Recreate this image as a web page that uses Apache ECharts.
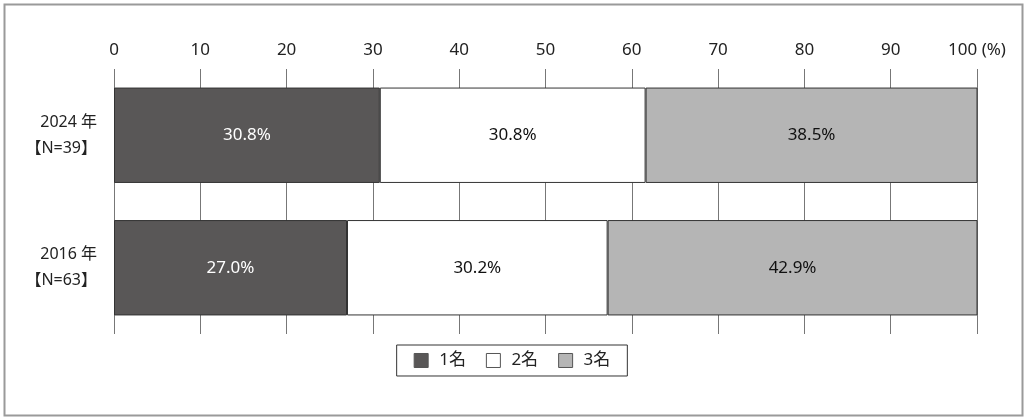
<!DOCTYPE html>
<html><head><meta charset="utf-8">
<script src="https://cdn.jsdelivr.net/npm/echarts@6/dist/echarts.min.js"></script>
<style>html,body{margin:0;padding:0;background:#fff}#c{width:1024px;height:418px}</style>
</head><body><div id="c"></div>
<script>
const categories = ['2024 年\n【N=39】', '2016 年\n【N=63】'];
const seriesNames = ['1名', '2名', '3名'];
const rank1 = [30.8, 27.0];
const rank2 = [30.8, 30.2];
const rank3 = [38.5, 42.9];
const xTicks = [0,10,20,30,40,50,60,70,80,90,100];

const font = '"Noto Sans", "Noto Sans CJK JP", sans-serif';
const colors = ['#595757', '#ffffff', '#b5b5b5'];
const labelColors = ['#ffffff', '#111111', '#111111'];
const values = [rank1, rank2, rank3];

const chart = echarts.init(document.getElementById('c'), null, {renderer: 'canvas'});
chart.setOption({
  animation: false,
  backgroundColor: '#fff',
  graphic: [{type: 'rect', left: 2, top: 2, shape: {width: 1018, height: 411}, style: {fill: 'none', stroke: '#9a9a9a', lineWidth: 2}, silent: true}],
  grid: {left: 114, right: 47, top: 69, bottom: 84},
  legend: {
    top: 345, left: 'center',
    data: seriesNames,
    icon: 'rect', itemWidth: 14, itemHeight: 14, itemGap: 20,
    borderColor: '#333', borderWidth: 1, padding: [7, 17, 7, 17],
    textStyle: {fontFamily: font, fontSize: 17, color: '#222', padding: [0, 0, 0, 6]},
    itemStyle: {borderColor: '#555', borderWidth: 1}
  },
  xAxis: {
    type: 'value', position: 'top', min: 0, max: 100, interval: 10,
    axisLine: {show: false}, axisTick: {show: false},
    axisLabel: {fontFamily: font, fontSize: 17, color: '#222', margin: 10,
      formatter: v => v === 100 ? '100 (%)' : String(v)},
    splitLine: {show: true, lineStyle: {color: '#777', width: 1}}
  },
  yAxis: {
    type: 'category', inverse: true, data: categories,
    axisLine: {show: false}, axisTick: {show: false},
    axisLabel: {fontFamily: font, fontSize: 16, color: '#222', margin: 17, lineHeight: 26, align: 'right'}
  },
  series: seriesNames.map((n, i) => ({
    name: n, type: 'bar', stack: 'total', barWidth: '72%',
    data: values[i],
    itemStyle: {color: colors[i], borderColor: '#333', borderWidth: 1},
    label: {show: true, position: 'inside', fontFamily: font, fontSize: 17, color: labelColors[i],
      formatter: p => p.value.toFixed(1) + '%'}
  }))
});
</script></body></html>
